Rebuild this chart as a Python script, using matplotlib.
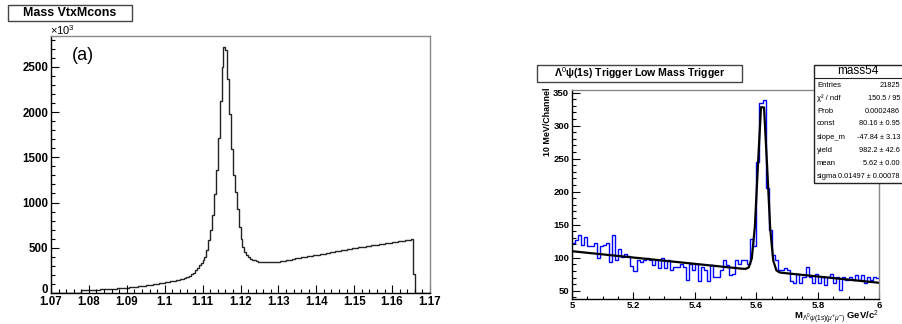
import numpy as np
import matplotlib
matplotlib.use("Agg")
import matplotlib.pyplot as plt
from matplotlib.patches import Rectangle
from matplotlib.ticker import MultipleLocator

plt.rcParams['font.family'] = ['Liberation Sans', 'DejaVu Sans']
plt.rcParams['mathtext.fontset'] = 'custom'
plt.rcParams['mathtext.rm'] = 'Liberation Sans'
plt.rcParams['mathtext.it'] = 'Liberation Sans:italic'
plt.rcParams['mathtext.bf'] = 'Liberation Sans:bold'

# ---------------- data ----------------
# left: Lambda mass histogram, 200 bins over 1.07-1.17 (counts / 1000)
left_range = (1.07, 1.17)
left_nbins = 200
left_first_bin = 16
left_counts = [
    30, 30, 31, 32, 33, 34, 35, 36, 37, 38,
    39, 40, 41, 42, 43, 44, 46, 47, 49, 50,
    52, 54, 56, 58, 60, 62, 64, 66, 68, 70,
    72, 75, 78, 81, 84, 87, 90, 93, 96, 99,
    102, 106, 110, 113, 117, 121, 125, 129, 133, 138,
    143, 148, 153, 159, 165, 172, 180, 190, 205, 225,
    250, 280, 306, 330, 360, 400, 472, 583, 693, 859,
    1099, 1355, 1714, 2120, 2500, 2721, 2690, 2360, 1976, 1593,
    1300, 1117, 930, 730, 601, 509, 453, 417, 398, 380,
    370, 360, 352, 347, 343, 341, 340, 339, 339, 339,
    340, 341, 343, 345, 348, 351, 355, 358, 362, 366,
    370, 374,
    379, 383, 386, 390, 393, 397, 400, 404, 408, 411,
    415, 418, 422, 425, 429, 433, 436, 440, 444, 448,
    451, 455, 459, 462, 466, 470, 474, 477, 481, 485,
    489, 492, 496, 500, 503, 507, 510, 513, 516, 519,
    522, 526, 529, 532, 535, 538, 541, 545, 548, 551,
    554, 557, 560, 564, 567, 570, 573, 576, 579, 582,
    585, 588, 594, 214,
]
left_xticks = [1.07, 1.08, 1.09, 1.10, 1.11, 1.12, 1.13, 1.14, 1.15, 1.16, 1.17]
left_xticklabels = ["1.07", "1.08", "1.09", "1.1", "1.11", "1.12", "1.13", "1.14", "1.15", "1.16", "1.17"]
left_yticks = [0, 500, 1000, 1500, 2000, 2500]

# right: Lambda0 psi(1s) mass, 100 bins of 10 MeV over 5-6 GeV
right_range = (5.0, 6.0)
right_counts = [
    122, 127, 135, 119, 132, 117, 117, 122, 100, 117,
    119, 122, 94, 135, 96, 113, 101, 106, 102, 87,
    80, 97, 94,
    97, 99, 96, 89, 96, 84, 99, 84, 96, 81,
    86, 86, 91, 86, 66, 91, 81, 91, 64, 86,
    81, 64, 89, 71, 71, 81, 96, 89, 74, 76,
    96, 91, 96, 96, 91,
    128, 118, 245, 334, 339, 205, 142, 104, 96,
    81, 81, 84, 81, 64, 61, 76, 61, 71, 86,
    71, 61, 76, 61, 71, 59, 71, 76, 61, 71,
    51, 71, 66, 71, 66, 74, 66, 74, 61, 71,
    66, 71, 70,
]
right_xticks = [5.0, 5.2, 5.4, 5.6, 5.8, 6.0]
right_xticklabels = ["5", "5.2", "5.4", "5.6", "5.8", "6"]
right_yticks = [50, 100, 150, 200, 250, 300, 350]

# fit parameters (from stats box)
fit_const = 80.16
fit_slope = -47.84
fit_yield = 982.2
fit_mean = 5.62
fit_sigma = 0.01497

stat_labels = ["Entries", "χ² / ndf", "Prob", "const", "slope_m", "yield", "mean", "sigma"]
stat_values = ["21825", "150.5 / 95", "0.0002486", "80.16 ± 0.95", "-47.84 ± 3.13",
               "982.2 ± 42.6", "5.62 ± 0.00", "0.01497 ± 0.00078"]

# ---------------- figure ----------------
W, H = 902, 324
fig = plt.figure(figsize=(W / 100, H / 100), dpi=100)


def fx(x):
    return x / W


def fy(y):
    return 1 - y / H


def style_axes(ax):
    for s in ["top", "right"]:
        ax.spines[s].set_color("#888888")
        ax.spines[s].set_linewidth(1.0)
    for s in ["left", "bottom"]:
        ax.spines[s].set_color("black")
        ax.spines[s].set_linewidth(1.0)
    ax.tick_params(which="both", direction="in", top=False, right=False, width=0.8)


# ---- left panel ----
axL = fig.add_axes([fx(51), fy(293), (430 - 51) / W, (293 - 36) / H])
edgesL = np.linspace(left_range[0], left_range[1], left_nbins + 1)
valsL = np.zeros(left_nbins)
valsL[left_first_bin:left_first_bin + len(left_counts)] = left_counts
axL.stairs(valsL, edgesL, color="#222222", linewidth=1.0, baseline=0)
axL.set_xlim(*left_range)
axL.set_ylim(0, 2840)
style_axes(axL)
axL.set_xticks(left_xticks)
axL.set_xticklabels(left_xticklabels, fontsize=8.3, fontweight="bold")
axL.set_yticks(left_yticks)
ylabL = axL.set_yticklabels([str(v) for v in left_yticks], fontsize=8.3, fontweight="bold")
ylabL[0].set_verticalalignment("baseline")
axL.xaxis.set_minor_locator(MultipleLocator(0.002))
axL.yaxis.set_minor_locator(MultipleLocator(100))
axL.tick_params(axis="x", which="major", length=6, pad=2)
axL.tick_params(axis="x", which="minor", length=3)
axL.tick_params(axis="y", which="major", length=6, pad=2)
axL.tick_params(axis="y", which="minor", length=3)

fig.text(fx(50), fy(30), r"$\times$10$^{3}$", fontsize=8, ha="left", va="center")
fig.text(fx(72), fy(55), "(a)", fontsize=13, ha="left", va="center")

fig.patches.append(Rectangle((fx(8), fy(21)), (132 - 8) / W, (21 - 5) / H,
                             transform=fig.transFigure, facecolor="white",
                             edgecolor="#444444", linewidth=1.0))
fig.text(fx(70), fy(13.5), "Mass VtxMcons", fontsize=8.9, fontweight="bold",
         ha="center", va="center")

# ---- right panel ----
axR = fig.add_axes([fx(572), fy(299.3), (879.3 - 572) / W, (299.3 - 90) / H])
edgesR = np.linspace(right_range[0], right_range[1], len(right_counts) + 1)
axR.stairs(right_counts, edgesR, color="#0000ff", linewidth=1.0, baseline=None)

centers = 0.5 * (edgesR[:-1] + edgesR[1:])
xf = np.concatenate([[right_range[0]], centers, [right_range[1]]])
bw = edgesR[1] - edgesR[0]
yf = (fit_const + fit_slope * (xf - fit_mean)
      + fit_yield * bw / (np.sqrt(2 * np.pi) * fit_sigma)
      * np.exp(-0.5 * ((xf - fit_mean) / fit_sigma) ** 2))
axR.plot(xf, yf, color="black", linewidth=1.6)

axR.set_xlim(*right_range)
axR.set_ylim(37, 354)
style_axes(axR)
axR.set_xticks(right_xticks)
axR.set_xticklabels(right_xticklabels, fontsize=6.8, fontweight="bold")
axR.set_yticks(right_yticks)
axR.set_yticklabels([str(v) for v in right_yticks], fontsize=6.8, fontweight="bold")
axR.xaxis.set_minor_locator(MultipleLocator(0.05))
axR.yaxis.set_minor_locator(MultipleLocator(10))
axR.tick_params(axis="x", which="major", length=5, pad=1)
axR.tick_params(axis="x", which="minor", length=2.5)
axR.tick_params(axis="y", which="major", length=6, pad=2)
axR.tick_params(axis="y", which="minor", length=3)

fig.text(fx(547), fy(122), "10 MeV/Channel", rotation=90, fontsize=6.4,
         fontweight="bold", ha="center", va="center")
fig.text(fx(879), fy(319.5), r"M$_{\Lambda^{0}\psi(1s)(\mu^{+}\mu^{-})}$ GeV/c$^{2}$",
         fontsize=6.8, fontweight="bold", ha="right", va="baseline")

fig.patches.append(Rectangle((fx(537), fy(82)), (742 - 537) / W, (82 - 65) / H,
                             transform=fig.transFigure, facecolor="white",
                             edgecolor="#444444", linewidth=1.0))
fig.text(fx(639.5), fy(73.5), r"Λ$^{0}$ψ(1s) Trigger Low Mass Trigger", fontsize=7.6,
         fontweight="bold", ha="center", va="center")

# stats box
fig.patches.append(Rectangle((fx(814), fy(183)), (911 - 814) / W, (183 - 65) / H,
                             transform=fig.transFigure, facecolor="white",
                             edgecolor="#222222", linewidth=1.0, zorder=5))
fig.lines.append(plt.Line2D([fx(814), fx(911)], [fy(78.3), fy(78.3)],
                            transform=fig.transFigure, color="#222222",
                            linewidth=0.8, zorder=6))
fig.text(fx(858), fy(71.5), "mass54", fontsize=8.5, ha="center", va="center", zorder=7)
row_y = [85, 98.3, 111.7, 124, 137.3, 150, 163.3, 176]
for yy, lab, val in zip(row_y, stat_labels, stat_values):
    fig.text(fx(817), fy(yy), lab, fontsize=5.5, ha="left", va="center", zorder=7)
    fig.text(fx(900), fy(yy), val, fontsize=5.3, ha="right", va="center", zorder=7)

fig.savefig("out.png", dpi=100)
